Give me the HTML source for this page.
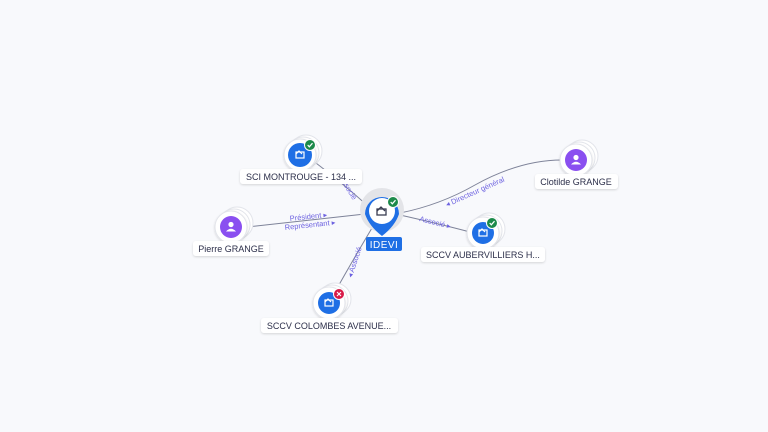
<!DOCTYPE html>
<html><head><meta charset="utf-8"><style>
html,body{margin:0;padding:0;background:#f8f9fc;}
svg{display:block;font-family:"Liberation Sans",sans-serif;}
.lbl{fill:#fff;filter:url(#sh);}
.t{font-size:9px;fill:#2c2f4a;text-anchor:middle;}
.e{font-size:7.5px;fill:#6d62e0;}
.ln{stroke:#7e8399;stroke-width:1;fill:none;}
</style></head><body>
<svg width="768" height="432" viewBox="0 0 768 432">
<defs>
<filter id="sh" x="-20%" y="-40%" width="140%" height="180%"><feDropShadow dx="0" dy="1" stdDeviation="1" flood-color="#000" flood-opacity="0.15"/></filter>
<g id="stack">
<circle cx="6" cy="-4" r="16" fill="#fff" stroke="#e2e4ea" stroke-width="1"/>
<circle cx="3" cy="-2" r="16" fill="#fff" stroke="#e2e4ea" stroke-width="1"/>
<circle cx="0" cy="0" r="16" fill="#fff" stroke="#e2e4ea" stroke-width="1" filter="url(#sh)"/>
</g>
<g id="bld"><rect x="-4" y="-3" width="8" height="6" fill="none" stroke="#fff" stroke-width="1.2"/><path d="M-4 -1 L-1 -4 L2 -1" stroke="#fff" fill="none" stroke-width="1.2"/></g>
<g id="per"><circle cx="0" cy="-2.5" r="2.6" fill="#fff"/><path d="M-5 4.5 Q0 -1 5 4.5 Z" fill="#fff"/></g>
<g id="ok"><circle r="5.5" fill="#1c8a4a" stroke="#fff" stroke-width="1"/><path d="M-2.3 0 L-0.7 1.8 L2.5 -1.8" stroke="#fff" stroke-width="1.2" fill="none"/></g>
</defs>
<!-- edges -->
<path class="ln" d="M312 160 Q345 185 370 208"/>
<path class="ln" d="M247 227 Q310 220 365 214"/>
<path class="ln" d="M400 213 Q440 205 475 185 Q520 160 562 160"/>
<path class="ln" d="M400 215 Q440 224 470 232"/>
<path class="ln" d="M372 228 Q350 265 335 292"/>
<!-- edge labels -->
<text class="e" transform="translate(339 178) rotate(58)">Associé</text>
<text class="e" x="290" y="221" transform="rotate(-6 290 221)">Président ▸</text>
<text class="e" x="285" y="230" transform="rotate(-6 285 230)">Représentant ▸</text>
<text class="e" transform="translate(447 207) rotate(-24)">◂ Directeur général</text>
<text class="e" transform="translate(419 221) rotate(14)">Associé ▸</text>
<text class="e" transform="translate(352 278) rotate(-72)">◂ Associé</text>
<!-- SCI MONTROUGE -->
<use href="#stack" x="300" y="155"/><circle cx="300" cy="155" r="12" fill="#1f6fe5"/><use href="#bld" x="300" y="155"/><use href="#ok" x="310" y="145"/>
<rect class="lbl" x="240" y="169" width="122" height="15" rx="3"/><text class="t" x="301" y="180">SCI MONTROUGE - 134 ...</text>
<!-- Pierre -->
<use href="#stack" x="231" y="227"/><circle cx="231" cy="227" r="11" fill="#8a4ff0"/><use href="#per" x="231" y="227"/>
<rect class="lbl" x="193" y="241" width="76" height="15" rx="3"/><text class="t" x="231" y="252">Pierre GRANGE</text>
<!-- Clotilde -->
<use href="#stack" x="576" y="160"/><circle cx="576" cy="160" r="11" fill="#8a4ff0"/><use href="#per" x="576" y="160"/>
<rect class="lbl" x="535" y="174" width="83" height="15" rx="3"/><text class="t" x="576" y="185">Clotilde GRANGE</text>
<!-- AUBERVILLIERS -->
<use href="#stack" x="483" y="233"/><circle cx="483" cy="233" r="11" fill="#1f6fe5"/><use href="#bld" x="483" y="233"/><use href="#ok" x="492" y="223"/>
<rect class="lbl" x="421" y="247" width="124" height="15" rx="3"/><text class="t" x="483" y="258">SCCV AUBERVILLIERS H...</text>
<!-- COLOMBES -->
<use href="#stack" x="329" y="303"/><circle cx="329" cy="303" r="11" fill="#1f6fe5"/><use href="#bld" x="329" y="303"/>
<circle cx="339" cy="294" r="5.5" fill="#d81b48" stroke="#fff" stroke-width="1"/><path d="M337 292 L341 296 M341 292 L337 296" stroke="#fff" stroke-width="1.1"/>
<rect class="lbl" x="261" y="318" width="137" height="15" rx="3"/><text class="t" x="329" y="329">SCCV COLOMBES AVENUE...</text>
<!-- IDEVI -->
<circle cx="382" cy="210" r="22" fill="#e3e4e8"/>
<path d="M365 214 A17 17 0 1 1 399 214 Q395 226 382 236 Q369 226 365 214 Z" fill="#1f6fe5"/>
<circle cx="382" cy="211" r="13" fill="#fff"/>
<rect x="377" y="209" width="9" height="6" fill="none" stroke="#3a3d52" stroke-width="1.3"/><path d="M377 211 L381 207 L385 211" stroke="#3a3d52" fill="none" stroke-width="1.3"/>
<use href="#ok" x="393" y="202"/>
<rect x="366" y="237" width="36" height="14" rx="2" fill="#1f6fe5"/><text x="384" y="248" font-size="10" fill="#fff" text-anchor="middle" letter-spacing="0.5">IDEVI</text>
</svg>
</body></html>
